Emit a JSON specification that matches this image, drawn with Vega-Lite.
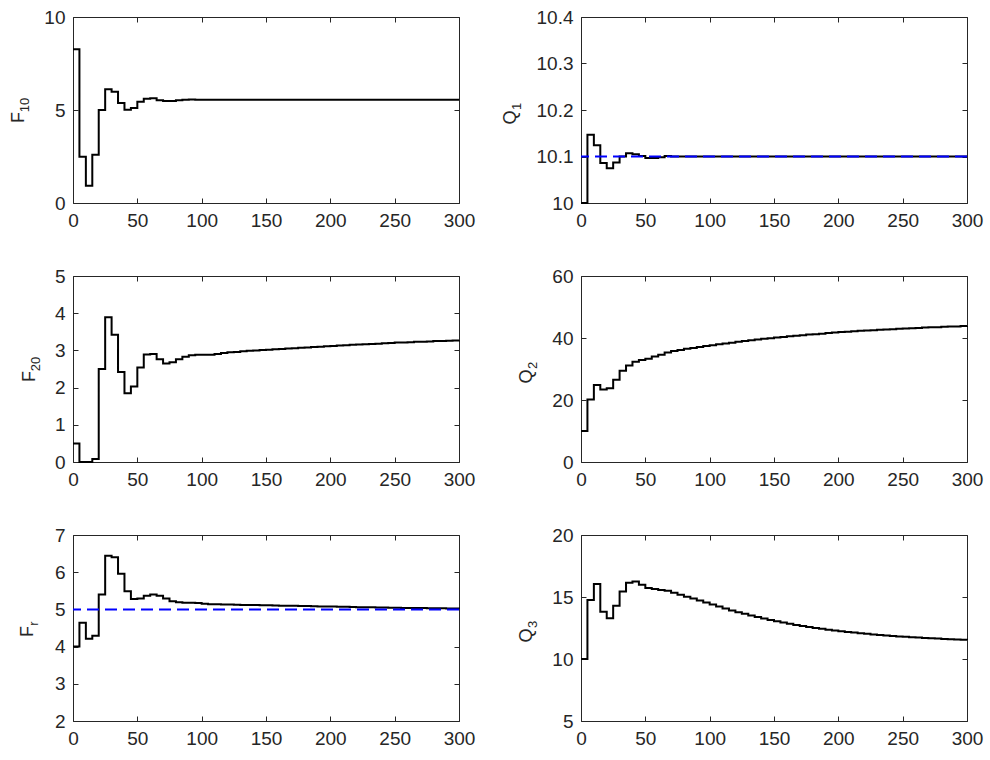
{
"$schema": "https://vega.github.io/schema/vega-lite/v6.json",
"padding": {"left": 8, "top": 7, "right": 5, "bottom": 5},
"background": "white",
"config": {
  "font": "Liberation Sans",
  "view": {"stroke": "#262626", "strokeWidth": 1},
  "axis": {"labelFont": "Liberation Sans", "labelFontSize": 19, "labelColor": "#262626", "labelFlush": false, "titleFont": "Liberation Sans", "titleFontSize": 18, "titleColor": "#262626", "titleFontWeight": "normal", "titleBaseline": "alphabetic", "titleAlign": "center", "titleAngle": -90, "domain": false, "tickColor": "#262626", "tickSize": -5, "grid": false, "labelPadding": 13}
},
"datasets": {
"F10": [{"t":0,"v":8.27},{"t":5,"v":2.48},{"t":10,"v":0.93},{"t":15,"v":2.59},{"t":20,"v":5.0},{"t":25,"v":6.12},{"t":30,"v":5.98},{"t":35,"v":5.38},{"t":40,"v":5.02},{"t":45,"v":5.11},{"t":50,"v":5.45},{"t":55,"v":5.61},{"t":60,"v":5.63},{"t":65,"v":5.52},{"t":70,"v":5.48},{"t":75,"v":5.48},{"t":80,"v":5.52},{"t":85,"v":5.55},{"t":90,"v":5.56},{"t":95,"v":5.55},{"t":100,"v":5.55},{"t":105,"v":5.55},{"t":110,"v":5.55},{"t":115,"v":5.55},{"t":120,"v":5.55},{"t":125,"v":5.55},{"t":130,"v":5.55},{"t":135,"v":5.55},{"t":140,"v":5.55},{"t":145,"v":5.55},{"t":150,"v":5.55},{"t":155,"v":5.55},{"t":160,"v":5.55},{"t":165,"v":5.55},{"t":170,"v":5.55},{"t":175,"v":5.55},{"t":180,"v":5.55},{"t":185,"v":5.55},{"t":190,"v":5.55},{"t":195,"v":5.55},{"t":200,"v":5.55},{"t":205,"v":5.55},{"t":210,"v":5.55},{"t":215,"v":5.55},{"t":220,"v":5.55},{"t":225,"v":5.55},{"t":230,"v":5.55},{"t":235,"v":5.55},{"t":240,"v":5.55},{"t":245,"v":5.55},{"t":250,"v":5.55},{"t":255,"v":5.55},{"t":260,"v":5.55},{"t":265,"v":5.55},{"t":270,"v":5.55},{"t":275,"v":5.55},{"t":280,"v":5.55},{"t":285,"v":5.55},{"t":290,"v":5.55},{"t":295,"v":5.55},{"t":300,"v":5.55}],
"Q1": [{"t":0,"v":10.0},{"t":5,"v":10.147},{"t":10,"v":10.124},{"t":15,"v":10.086},{"t":20,"v":10.075},{"t":25,"v":10.087},{"t":30,"v":10.1},{"t":35,"v":10.107},{"t":40,"v":10.105},{"t":45,"v":10.101},{"t":50,"v":10.097},{"t":55,"v":10.097},{"t":60,"v":10.0985},{"t":65,"v":10.101},{"t":70,"v":10.1},{"t":75,"v":10.1},{"t":80,"v":10.1},{"t":85,"v":10.1},{"t":90,"v":10.1},{"t":95,"v":10.1},{"t":100,"v":10.1},{"t":105,"v":10.1},{"t":110,"v":10.1},{"t":115,"v":10.1},{"t":120,"v":10.1},{"t":125,"v":10.1},{"t":130,"v":10.1},{"t":135,"v":10.1},{"t":140,"v":10.1},{"t":145,"v":10.1},{"t":150,"v":10.1},{"t":155,"v":10.1},{"t":160,"v":10.1},{"t":165,"v":10.1},{"t":170,"v":10.1},{"t":175,"v":10.1},{"t":180,"v":10.1},{"t":185,"v":10.1},{"t":190,"v":10.1},{"t":195,"v":10.1},{"t":200,"v":10.1},{"t":205,"v":10.1},{"t":210,"v":10.1},{"t":215,"v":10.1},{"t":220,"v":10.1},{"t":225,"v":10.1},{"t":230,"v":10.1},{"t":235,"v":10.1},{"t":240,"v":10.1},{"t":245,"v":10.1},{"t":250,"v":10.1},{"t":255,"v":10.1},{"t":260,"v":10.1},{"t":265,"v":10.1},{"t":270,"v":10.1},{"t":275,"v":10.1},{"t":280,"v":10.1},{"t":285,"v":10.1},{"t":290,"v":10.1},{"t":295,"v":10.1},{"t":300,"v":10.1}],
"F20": [{"t":0,"v":0.5},{"t":5,"v":0.0},{"t":10,"v":0.0},{"t":15,"v":0.08},{"t":20,"v":2.5},{"t":25,"v":3.89},{"t":30,"v":3.42},{"t":35,"v":2.42},{"t":40,"v":1.85},{"t":45,"v":2.03},{"t":50,"v":2.54},{"t":55,"v":2.89},{"t":60,"v":2.9},{"t":65,"v":2.76},{"t":70,"v":2.65},{"t":75,"v":2.68},{"t":80,"v":2.76},{"t":85,"v":2.83},{"t":90,"v":2.87},{"t":95,"v":2.88},{"t":100,"v":2.88},{"t":105,"v":2.88},{"t":110,"v":2.9},{"t":115,"v":2.93},{"t":120,"v":2.95},{"t":125,"v":2.96},{"t":130,"v":2.98},{"t":135,"v":2.99},{"t":140,"v":3.0},{"t":145,"v":3.01},{"t":150,"v":3.02},{"t":155,"v":3.03},{"t":160,"v":3.04},{"t":165,"v":3.05},{"t":170,"v":3.06},{"t":175,"v":3.07},{"t":180,"v":3.08},{"t":185,"v":3.09},{"t":190,"v":3.1},{"t":195,"v":3.11},{"t":200,"v":3.12},{"t":205,"v":3.13},{"t":210,"v":3.14},{"t":215,"v":3.15},{"t":220,"v":3.16},{"t":225,"v":3.165},{"t":230,"v":3.17},{"t":235,"v":3.18},{"t":240,"v":3.19},{"t":245,"v":3.2},{"t":250,"v":3.21},{"t":255,"v":3.215},{"t":260,"v":3.22},{"t":265,"v":3.23},{"t":270,"v":3.235},{"t":275,"v":3.24},{"t":280,"v":3.25},{"t":285,"v":3.255},{"t":290,"v":3.26},{"t":295,"v":3.265},{"t":300,"v":3.27}],
"Q2": [{"t":0,"v":10},{"t":5,"v":20.2},{"t":10,"v":24.8},{"t":15,"v":23.4},{"t":20,"v":23.8},{"t":25,"v":26.5},{"t":30,"v":29.4},{"t":35,"v":31.1},{"t":40,"v":32.3},{"t":45,"v":32.9},{"t":50,"v":33.3},{"t":55,"v":34.0},{"t":60,"v":34.6},{"t":65,"v":35.3},{"t":70,"v":35.8},{"t":75,"v":36.1},{"t":80,"v":36.5},{"t":85,"v":36.8},{"t":90,"v":37.1},{"t":95,"v":37.4},{"t":100,"v":37.7},{"t":105,"v":38.0},{"t":110,"v":38.25},{"t":115,"v":38.5},{"t":120,"v":38.8},{"t":125,"v":39.05},{"t":130,"v":39.3},{"t":135,"v":39.5},{"t":140,"v":39.75},{"t":145,"v":39.95},{"t":150,"v":40.15},{"t":155,"v":40.35},{"t":160,"v":40.55},{"t":165,"v":40.75},{"t":170,"v":40.9},{"t":175,"v":41.1},{"t":180,"v":41.25},{"t":185,"v":41.4},{"t":190,"v":41.6},{"t":195,"v":41.75},{"t":200,"v":41.9},{"t":205,"v":42.0},{"t":210,"v":42.15},{"t":215,"v":42.3},{"t":220,"v":42.4},{"t":225,"v":42.5},{"t":230,"v":42.65},{"t":235,"v":42.75},{"t":240,"v":42.85},{"t":245,"v":42.95},{"t":250,"v":43.05},{"t":255,"v":43.15},{"t":260,"v":43.25},{"t":265,"v":43.35},{"t":270,"v":43.45},{"t":275,"v":43.5},{"t":280,"v":43.6},{"t":285,"v":43.7},{"t":290,"v":43.75},{"t":295,"v":43.85},{"t":300,"v":43.9}],
"Fr": [{"t":0,"v":4.0},{"t":5,"v":4.64},{"t":10,"v":4.21},{"t":15,"v":4.29},{"t":20,"v":5.4},{"t":25,"v":6.44},{"t":30,"v":6.4},{"t":35,"v":5.96},{"t":40,"v":5.49},{"t":45,"v":5.28},{"t":50,"v":5.29},{"t":55,"v":5.37},{"t":60,"v":5.4},{"t":65,"v":5.37},{"t":70,"v":5.29},{"t":75,"v":5.22},{"t":80,"v":5.19},{"t":85,"v":5.18},{"t":90,"v":5.18},{"t":95,"v":5.17},{"t":100,"v":5.15},{"t":105,"v":5.14},{"t":110,"v":5.14},{"t":115,"v":5.13},{"t":120,"v":5.13},{"t":125,"v":5.125},{"t":130,"v":5.12},{"t":135,"v":5.12},{"t":140,"v":5.115},{"t":145,"v":5.11},{"t":150,"v":5.11},{"t":155,"v":5.105},{"t":160,"v":5.1},{"t":165,"v":5.1},{"t":170,"v":5.095},{"t":175,"v":5.09},{"t":180,"v":5.09},{"t":185,"v":5.085},{"t":190,"v":5.08},{"t":195,"v":5.08},{"t":200,"v":5.075},{"t":205,"v":5.07},{"t":210,"v":5.07},{"t":215,"v":5.065},{"t":220,"v":5.06},{"t":225,"v":5.06},{"t":230,"v":5.055},{"t":235,"v":5.05},{"t":240,"v":5.05},{"t":245,"v":5.045},{"t":250,"v":5.045},{"t":255,"v":5.04},{"t":260,"v":5.04},{"t":265,"v":5.035},{"t":270,"v":5.035},{"t":275,"v":5.03},{"t":280,"v":5.03},{"t":285,"v":5.03},{"t":290,"v":5.025},{"t":295,"v":5.025},{"t":300,"v":5.02}],
"Q3": [{"t":0,"v":10},{"t":5,"v":14.76},{"t":10,"v":16.04},{"t":15,"v":13.82},{"t":20,"v":13.29},{"t":25,"v":14.3},{"t":30,"v":15.45},{"t":35,"v":16.15},{"t":40,"v":16.26},{"t":45,"v":15.99},{"t":50,"v":15.72},{"t":55,"v":15.64},{"t":60,"v":15.56},{"t":65,"v":15.51},{"t":70,"v":15.35},{"t":75,"v":15.19},{"t":80,"v":15.03},{"t":85,"v":14.87},{"t":90,"v":14.71},{"t":95,"v":14.55},{"t":100,"v":14.39},{"t":105,"v":14.23},{"t":110,"v":14.07},{"t":115,"v":13.92},{"t":120,"v":13.78},{"t":125,"v":13.64},{"t":130,"v":13.51},{"t":135,"v":13.38},{"t":140,"v":13.26},{"t":145,"v":13.15},{"t":150,"v":13.04},{"t":155,"v":12.94},{"t":160,"v":12.84},{"t":165,"v":12.75},{"t":170,"v":12.66},{"t":175,"v":12.58},{"t":180,"v":12.5},{"t":185,"v":12.43},{"t":190,"v":12.36},{"t":195,"v":12.3},{"t":200,"v":12.24},{"t":205,"v":12.18},{"t":210,"v":12.13},{"t":215,"v":12.08},{"t":220,"v":12.03},{"t":225,"v":11.98},{"t":230,"v":11.94},{"t":235,"v":11.9},{"t":240,"v":11.86},{"t":245,"v":11.82},{"t":250,"v":11.79},{"t":255,"v":11.76},{"t":260,"v":11.73},{"t":265,"v":11.7},{"t":270,"v":11.67},{"t":275,"v":11.65},{"t":280,"v":11.62},{"t":285,"v":11.6},{"t":290,"v":11.58},{"t":295,"v":11.56},{"t":300,"v":11.54}],
"refQ1": [{"v":10.1}],
"refFr": [{"v":5}]
},
"columns": 2,
"spacing": {"row": 73, "column": 122},
"bounds": "flush",
"concat": [
{"width":386,"height":186,
 "layer":[
  {"data":{"name":"F10"},"mark":{"type":"line","interpolate":"step-after","color":"black","strokeWidth":2},
   "encoding":{"x":{"field":"t","type":"quantitative","scale":{"domain":[0,300],"nice":false},"axis":{"orient":"bottom","values":[0,50,100,150,200,250,300],"title":null}},
               "y":{"field":"v","type":"quantitative","scale":{"domain":[0,10],"nice":false},"axis":{"orient":"left","values":[0,5,10],"title":"F","titleX":-50,"titleY":100}}}},
  {"data":{"name":"F10"},"mark":{"type":"line","interpolate":"step-after","opacity":0},
   "encoding":{"x":{"field":"t","type":"quantitative","axis":{"orient":"top","values":[0,50,100,150,200,250,300],"labels":false,"title":null}},
               "y":{"field":"v","type":"quantitative","axis":{"orient":"right","values":[0,5,10],"labels":false,"title":null}}}},
  {"data":{"name":"F10"},"mark":{"type":"line","interpolate":"step-after","opacity":0},
   "encoding":{"x":{"field":"t","type":"quantitative","axis":null},
               "y":{"field":"v","type":"quantitative","axis":{"orient":"left","labels":false,"ticks":false,"title":"10","titleFontSize":13,"titleX":-45,"titleY":87.5}}}}
 ],
 "resolve":{"axis":{"x":"independent","y":"independent"}}},
{"width":386,"height":186,
 "layer":[
  {"data":{"name":"Q1"},"mark":{"type":"line","interpolate":"step-after","color":"black","strokeWidth":2},
   "encoding":{"x":{"field":"t","type":"quantitative","scale":{"domain":[0,300],"nice":false},"axis":{"orient":"bottom","values":[0,50,100,150,200,250,300],"title":null}},
               "y":{"field":"v","type":"quantitative","scale":{"domain":[10,10.4],"nice":false,"zero":false},"axis":{"orient":"left","values":[10,10.1,10.2,10.3,10.4],"format":"~g","title":"Q","titleX":-66,"titleY":100}}}},
  {"data":{"name":"Q1"},"mark":{"type":"line","interpolate":"step-after","opacity":0},
   "encoding":{"x":{"field":"t","type":"quantitative","axis":{"orient":"top","values":[0,50,100,150,200,250,300],"labels":false,"title":null}},
               "y":{"field":"v","type":"quantitative","axis":{"orient":"right","values":[10,10.1,10.2,10.3,10.4],"labels":false,"title":null}}}},
  {"data":{"name":"Q1"},"mark":{"type":"line","interpolate":"step-after","opacity":0},
   "encoding":{"x":{"field":"t","type":"quantitative","axis":null},
               "y":{"field":"v","type":"quantitative","axis":{"orient":"left","labels":false,"ticks":false,"title":"1","titleFontSize":13,"titleX":-61,"titleY":89}}}},
  {"data":{"name":"refQ1"},"mark":{"type":"rule","color":"#0000ff","strokeWidth":2,"strokeDash":[12,6]},
   "encoding":{"y":{"field":"v","type":"quantitative","axis":null}}}
 ],
 "resolve":{"axis":{"x":"independent","y":"independent"}}},
{"width":386,"height":186,
 "layer":[
  {"data":{"name":"F20"},"mark":{"type":"line","interpolate":"step-after","color":"black","strokeWidth":2},
   "encoding":{"x":{"field":"t","type":"quantitative","scale":{"domain":[0,300],"nice":false},"axis":{"orient":"bottom","values":[0,50,100,150,200,250,300],"title":null}},
               "y":{"field":"v","type":"quantitative","scale":{"domain":[0,5],"nice":false},"axis":{"orient":"left","values":[0,1,2,3,4,5],"title":"F","titleX":-39,"titleY":100}}}},
  {"data":{"name":"F20"},"mark":{"type":"line","interpolate":"step-after","opacity":0},
   "encoding":{"x":{"field":"t","type":"quantitative","axis":{"orient":"top","values":[0,50,100,150,200,250,300],"labels":false,"title":null}},
               "y":{"field":"v","type":"quantitative","axis":{"orient":"right","values":[0,1,2,3,4,5],"labels":false,"title":null}}}},
  {"data":{"name":"F20"},"mark":{"type":"line","interpolate":"step-after","opacity":0},
   "encoding":{"x":{"field":"t","type":"quantitative","axis":null},
               "y":{"field":"v","type":"quantitative","axis":{"orient":"left","labels":false,"ticks":false,"title":"20","titleFontSize":13,"titleX":-34,"titleY":87.5}}}}
 ],
 "resolve":{"axis":{"x":"independent","y":"independent"}}},
{"width":386,"height":186,
 "layer":[
  {"data":{"name":"Q2"},"mark":{"type":"line","interpolate":"step-after","color":"black","strokeWidth":2},
   "encoding":{"x":{"field":"t","type":"quantitative","scale":{"domain":[0,300],"nice":false},"axis":{"orient":"bottom","values":[0,50,100,150,200,250,300],"title":null}},
               "y":{"field":"v","type":"quantitative","scale":{"domain":[0,60],"nice":false},"axis":{"orient":"left","values":[0,20,40,60],"title":"Q","titleX":-50,"titleY":100}}}},
  {"data":{"name":"Q2"},"mark":{"type":"line","interpolate":"step-after","opacity":0},
   "encoding":{"x":{"field":"t","type":"quantitative","axis":{"orient":"top","values":[0,50,100,150,200,250,300],"labels":false,"title":null}},
               "y":{"field":"v","type":"quantitative","axis":{"orient":"right","values":[0,20,40,60],"labels":false,"title":null}}}},
  {"data":{"name":"Q2"},"mark":{"type":"line","interpolate":"step-after","opacity":0},
   "encoding":{"x":{"field":"t","type":"quantitative","axis":null},
               "y":{"field":"v","type":"quantitative","axis":{"orient":"left","labels":false,"ticks":false,"title":"2","titleFontSize":13,"titleX":-45,"titleY":89}}}}
 ],
 "resolve":{"axis":{"x":"independent","y":"independent"}}},
{"width":386,"height":186,
 "layer":[
  {"data":{"name":"Fr"},"mark":{"type":"line","interpolate":"step-after","color":"black","strokeWidth":2},
   "encoding":{"x":{"field":"t","type":"quantitative","scale":{"domain":[0,300],"nice":false},"axis":{"orient":"bottom","values":[0,50,100,150,200,250,300],"title":null}},
               "y":{"field":"v","type":"quantitative","scale":{"domain":[2,7],"nice":false,"zero":false},"axis":{"orient":"left","values":[2,3,4,5,6,7],"title":"F","titleX":-41,"titleY":96}}}},
  {"data":{"name":"Fr"},"mark":{"type":"line","interpolate":"step-after","opacity":0},
   "encoding":{"x":{"field":"t","type":"quantitative","axis":{"orient":"top","values":[0,50,100,150,200,250,300],"labels":false,"title":null}},
               "y":{"field":"v","type":"quantitative","axis":{"orient":"right","values":[2,3,4,5,6,7],"labels":false,"title":null}}}},
  {"data":{"name":"Fr"},"mark":{"type":"line","interpolate":"step-after","opacity":0},
   "encoding":{"x":{"field":"t","type":"quantitative","axis":null},
               "y":{"field":"v","type":"quantitative","axis":{"orient":"left","labels":false,"ticks":false,"title":"r","titleFontSize":13,"titleX":-36,"titleY":88}}}},
  {"data":{"name":"refFr"},"mark":{"type":"rule","color":"#0000ff","strokeWidth":2,"strokeDash":[12,6]},
   "encoding":{"y":{"field":"v","type":"quantitative","axis":null}}}
 ],
 "resolve":{"axis":{"x":"independent","y":"independent"}}},
{"width":386,"height":186,
 "layer":[
  {"data":{"name":"Q3"},"mark":{"type":"line","interpolate":"step-after","color":"black","strokeWidth":2},
   "encoding":{"x":{"field":"t","type":"quantitative","scale":{"domain":[0,300],"nice":false},"axis":{"orient":"bottom","values":[0,50,100,150,200,250,300],"title":null}},
               "y":{"field":"v","type":"quantitative","scale":{"domain":[5,20],"nice":false,"zero":false},"axis":{"orient":"left","values":[5,10,15,20],"title":"Q","titleX":-50,"titleY":100}}}},
  {"data":{"name":"Q3"},"mark":{"type":"line","interpolate":"step-after","opacity":0},
   "encoding":{"x":{"field":"t","type":"quantitative","axis":{"orient":"top","values":[0,50,100,150,200,250,300],"labels":false,"title":null}},
               "y":{"field":"v","type":"quantitative","axis":{"orient":"right","values":[5,10,15,20],"labels":false,"title":null}}}},
  {"data":{"name":"Q3"},"mark":{"type":"line","interpolate":"step-after","opacity":0},
   "encoding":{"x":{"field":"t","type":"quantitative","axis":null},
               "y":{"field":"v","type":"quantitative","axis":{"orient":"left","labels":false,"ticks":false,"title":"3","titleFontSize":13,"titleX":-45,"titleY":89}}}}
 ],
 "resolve":{"axis":{"x":"independent","y":"independent"}}}
]
}
